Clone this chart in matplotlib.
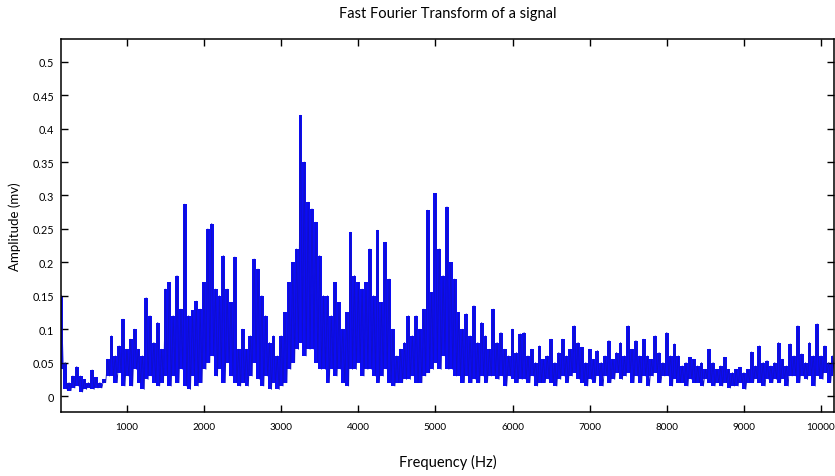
import matplotlib
matplotlib.use('Agg')
import matplotlib.pyplot as plt
import numpy as np
from matplotlib.ticker import FuncFormatter

# FFT bins: 25 Hz apart, 150 Hz .. 10175 Hz.
# The spectrum is so dense that each ~50 Hz slot shows as a local peak
# followed by a local trough, so the values are kept as peak / trough pairs.
FREQ_HZ = np.arange(150, 10176, 25)

# local peaks (mv) at 150, 200, 250 ... Hz
PEAK_150_2100 = [
    0.15, 0.05, 0.02, 0.03, 0.044, 0.03, 0.025, 0.02, 0.039, 0.028,
    0.02, 0.025, 0.055, 0.09, 0.06, 0.075, 0.115, 0.07, 0.085, 0.1,
    0.07, 0.06, 0.147, 0.12, 0.08, 0.11, 0.07, 0.16, 0.17, 0.12,
    0.18, 0.13, 0.287, 0.12, 0.128, 0.142, 0.13, 0.17, 0.25, 0.258,
]
PEAK_2150_4100 = [
    0.16, 0.15, 0.21, 0.16, 0.14, 0.208, 0.07, 0.1, 0.07, 0.09,
    0.205, 0.19, 0.15, 0.12, 0.08, 0.09, 0.06, 0.09, 0.125, 0.17,
    0.2, 0.22, 0.42, 0.35, 0.29, 0.28, 0.26, 0.21, 0.15, 0.15,
    0.12, 0.17, 0.14, 0.1, 0.125, 0.245, 0.18, 0.17, 0.16, 0.17,
]
PEAK_4150_6100 = [
    0.22, 0.15, 0.248, 0.14, 0.23, 0.175, 0.1, 0.06, 0.07, 0.08,
    0.12, 0.09, 0.12, 0.1, 0.13, 0.278, 0.155, 0.303, 0.22, 0.18,
    0.283, 0.2, 0.175, 0.125, 0.1, 0.123, 0.09, 0.135, 0.08, 0.11,
    0.09, 0.07, 0.13, 0.08, 0.095, 0.07, 0.06, 0.1, 0.065, 0.093,
]
PEAK_6150_8100 = [
    0.095, 0.06, 0.07, 0.05, 0.075, 0.055, 0.06, 0.085, 0.05, 0.065,
    0.085, 0.06, 0.07, 0.105, 0.08, 0.073, 0.05, 0.07, 0.055, 0.068,
    0.05, 0.06, 0.083, 0.055, 0.065, 0.08, 0.06, 0.105, 0.07, 0.083,
    0.06, 0.085, 0.06, 0.055, 0.09, 0.065, 0.05, 0.095, 0.06, 0.078,
]
PEAK_8150_10150 = [
    0.06, 0.045, 0.05, 0.058, 0.055, 0.045, 0.05, 0.04, 0.07, 0.05,
    0.04, 0.045, 0.058, 0.04, 0.035, 0.04, 0.043, 0.035, 0.04, 0.066,
    0.045, 0.075, 0.05, 0.053, 0.045, 0.05, 0.08, 0.055, 0.045, 0.078,
    0.06, 0.105, 0.063, 0.05, 0.08, 0.06, 0.108, 0.06, 0.075, 0.05,
    0.06,
]

# local troughs (mv) at 175, 225, 275 ... Hz
TROUGH_175_2125 = [
    0.04, 0.01, 0.008, 0.012, 0.015, 0.006, 0.01, 0.012, 0.01, 0.012,
    0.012, 0.02, 0.03, 0.03, 0.02, 0.035, 0.015, 0.03, 0.015, 0.04,
    0.02, 0.01, 0.025, 0.03, 0.02, 0.015, 0.02, 0.03, 0.015, 0.03,
    0.02, 0.04, 0.015, 0.01, 0.03, 0.015, 0.02, 0.04, 0.05, 0.06,
]
TROUGH_2175_4125 = [
    0.03, 0.04, 0.02, 0.05, 0.03, 0.02, 0.015, 0.02, 0.015, 0.03,
    0.05, 0.025, 0.015, 0.03, 0.01, 0.02, 0.01, 0.015, 0.02, 0.04,
    0.05, 0.07, 0.08, 0.06, 0.07, 0.07, 0.05, 0.04, 0.04, 0.02,
    0.04, 0.03, 0.04, 0.02, 0.015, 0.04, 0.04, 0.05, 0.03, 0.04,
]
TROUGH_4175_6125 = [
    0.04, 0.03, 0.02, 0.03, 0.04, 0.02, 0.015, 0.02, 0.02, 0.025,
    0.025, 0.03, 0.02, 0.02, 0.03, 0.035, 0.04, 0.05, 0.04, 0.06,
    0.04, 0.04, 0.03, 0.03, 0.02, 0.03, 0.02, 0.025, 0.02, 0.03,
    0.02, 0.03, 0.03, 0.025, 0.03, 0.015, 0.03, 0.025, 0.02, 0.025,
]
TROUGH_6175_8125 = [
    0.025, 0.02, 0.03, 0.015, 0.02, 0.02, 0.025, 0.02, 0.015, 0.025,
    0.03, 0.02, 0.03, 0.035, 0.025, 0.02, 0.015, 0.025, 0.02, 0.03,
    0.015, 0.03, 0.02, 0.025, 0.035, 0.025, 0.03, 0.035, 0.02, 0.03,
    0.02, 0.03, 0.015, 0.03, 0.035, 0.02, 0.03, 0.03, 0.015, 0.025,
]
TROUGH_8175_10175 = [
    0.02, 0.02, 0.015, 0.025, 0.02, 0.02, 0.015, 0.025, 0.02, 0.015,
    0.02, 0.015, 0.02, 0.012, 0.015, 0.015, 0.02, 0.01, 0.02, 0.02,
    0.025, 0.02, 0.015, 0.025, 0.02, 0.025, 0.02, 0.025, 0.015, 0.03,
    0.03, 0.02, 0.03, 0.025, 0.03, 0.015, 0.03, 0.025, 0.035, 0.02,
    0.03,
]

X_TICKS = [1000, 2000, 3000, 4000, 5000, 6000, 7000, 8000, 9000, 10000]
Y_TICKS = [0, 0.05, 0.1, 0.15, 0.2, 0.25, 0.3, 0.35, 0.4, 0.45, 0.5]

peaks = np.array(PEAK_150_2100 + PEAK_2150_4100 + PEAK_4150_6100
                 + PEAK_6150_8100 + PEAK_8150_10150)
troughs = np.array(TROUGH_175_2125 + TROUGH_2175_4125 + TROUGH_4175_6125
                   + TROUGH_6175_8125 + TROUGH_8175_10175)
amp = np.column_stack([peaks, troughs]).ravel()  # peak, trough, peak, ...

plt.rcParams['font.family'] = ['Lato', 'DejaVu Sans']

fig = plt.figure(figsize=(8.35, 4.77), dpi=100)
ax = fig.add_axes([0.073, 0.134, 0.926, 0.782])

# the bins are far denser than the pixels, so the trace shows as a solid band
ax.fill_between(FREQ_HZ[::2], troughs, peaks, step='mid',
                color='#0c0cf5', linewidth=0)
ax.plot(FREQ_HZ, amp, color='#1010c8', linewidth=0.6)

ax.set_xlim(145, 10170)
ax.set_ylim(-0.024, 0.534)
ax.set_xticks(X_TICKS)
ax.set_yticks(Y_TICKS)
ax.yaxis.set_major_formatter(FuncFormatter(lambda v, p: '%g' % v))
ax.tick_params(direction='in', top=True, right=True, length=5, width=1,
               labelsize=7.8)
ax.tick_params(axis='x', pad=7, labelsize=7.2)
ax.tick_params(axis='y', pad=5)
for s in ax.spines.values():
    s.set_linewidth(1.1)

ax.set_title('Fast Fourier Transform of a signal', fontsize=10.5, pad=16)
ax.set_xlabel('Frequency (Hz)', fontsize=10.5, labelpad=17)
ax.set_ylabel('Amplitude (mv)', fontsize=9.5, labelpad=8)

plt.savefig('out.png', dpi=100)
